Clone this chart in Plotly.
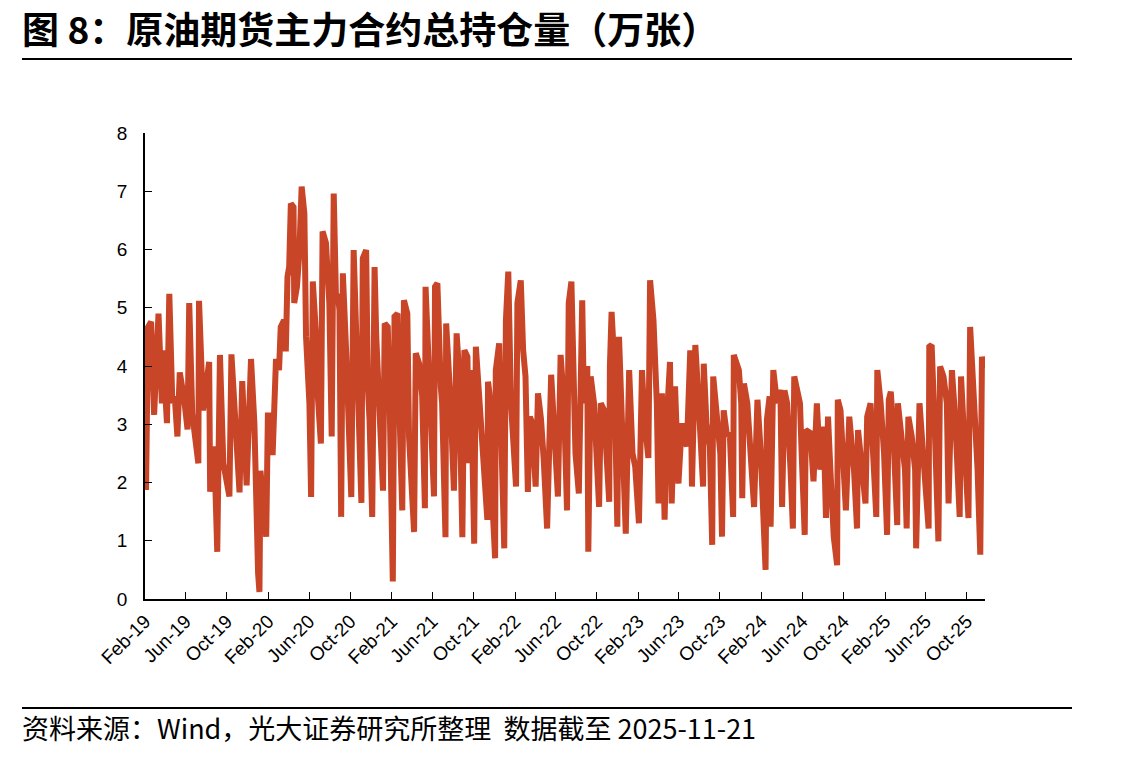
import plotly.graph_objects as go

title_text = "图 8：原油期货主力合约总持仓量（万张）"
source_text = "资料来源：Wind，光大证券研究所整理&nbsp;&nbsp;数据截至 2025-11-21"

dates = [
    "2019-02-04", "2019-02-10", "2019-02-19", "2019-02-28", "2019-03-13", "2019-03-23", "2019-03-26", "2019-04-07",
    "2019-04-14", "2019-04-23", "2019-04-30", "2019-05-08", "2019-05-15", "2019-05-28", "2019-06-07", "2019-06-12",
    "2019-06-21", "2019-07-09", "2019-07-11", "2019-07-23", "2019-08-10", "2019-08-13", "2019-08-25", "2019-09-03",
    "2019-09-11", "2019-09-21", "2019-10-09", "2019-10-15", "2019-10-28", "2019-11-08", "2019-11-16", "2019-11-29",
    "2019-12-12", "2019-12-22", "2020-01-02", "2020-01-06", "2020-01-09", "2020-01-16", "2020-01-26", "2020-01-31",
    "2020-02-10", "2020-02-14", "2020-02-24", "2020-03-04", "2020-03-09", "2020-03-19", "2020-03-24", "2020-03-29",
    "2020-04-03", "2020-04-08", "2020-04-16", "2020-04-18", "2020-04-26", "2020-05-03", "2020-05-10", "2020-05-18",
    "2020-05-23", "2020-06-02", "2020-06-07", "2020-06-12", "2020-06-22", "2020-06-27", "2020-07-06", "2020-07-11",
    "2020-07-21", "2020-07-31", "2020-08-07", "2020-08-13", "2020-08-20", "2020-08-25", "2020-08-30", "2020-09-04",
    "2020-09-09", "2020-09-19", "2020-10-04", "2020-10-11", "2020-10-23", "2020-11-03", "2020-11-07", "2020-11-17",
    "2020-11-22", "2020-11-27", "2020-12-05", "2020-12-12", "2020-12-17", "2020-12-27", "2021-01-06", "2021-01-11",
    "2021-01-20", "2021-01-25", "2021-02-04", "2021-02-09", "2021-02-18", "2021-02-23", "2021-03-04", "2021-03-09",
    "2021-03-19", "2021-03-24", "2021-04-08", "2021-04-13", "2021-04-23", "2021-05-02", "2021-05-10", "2021-05-12",
    "2021-05-22", "2021-06-06", "2021-06-09", "2021-06-16", "2021-06-26", "2021-06-30", "2021-07-10", "2021-07-12",
    "2021-07-25", "2021-08-04", "2021-08-12", "2021-08-19", "2021-08-29", "2021-09-04", "2021-09-13", "2021-09-18",
    "2021-09-23", "2021-10-03", "2021-10-08", "2021-10-18", "2021-10-28", "2021-11-11", "2021-11-13", "2021-11-21",
    "2021-11-26", "2021-12-04", "2021-12-06", "2021-12-16", "2021-12-21", "2021-12-31", "2022-01-05", "2022-01-12",
    "2022-01-20", "2022-01-30", "2022-02-04", "2022-02-08", "2022-02-18", "2022-02-25", "2022-03-04", "2022-03-11",
    "2022-03-17", "2022-03-24", "2022-04-03", "2022-04-10", "2022-04-19", "2022-04-27", "2022-05-07", "2022-05-19",
    "2022-05-27", "2022-06-08", "2022-06-16", "2022-06-26", "2022-07-05", "2022-07-10", "2022-07-18", "2022-07-25",
    "2022-07-30", "2022-08-09", "2022-08-14", "2022-08-19", "2022-08-24", "2022-09-03", "2022-09-06", "2022-09-13",
    "2022-09-23", "2022-09-30", "2022-10-08", "2022-10-13", "2022-10-23", "2022-10-28", "2022-11-07", "2022-11-09",
    "2022-11-14", "2022-11-21", "2022-12-01", "2022-12-06", "2022-12-16", "2022-12-26", "2023-01-05", "2023-01-15",
    "2023-01-23", "2023-01-30", "2023-02-03", "2023-02-12", "2023-02-20", "2023-03-03", "2023-03-08", "2023-03-18",
    "2023-03-28", "2023-04-02", "2023-04-12", "2023-04-20", "2023-04-27", "2023-05-06", "2023-05-11", "2023-05-21",
    "2023-05-31", "2023-06-10", "2023-06-15", "2023-06-25", "2023-07-05", "2023-07-10", "2023-07-20", "2023-07-30",
    "2023-08-12", "2023-08-14", "2023-08-22", "2023-09-01", "2023-09-08", "2023-09-11", "2023-09-22", "2023-10-02",
    "2023-10-07", "2023-10-12", "2023-10-22", "2023-10-30", "2023-11-09", "2023-11-11", "2023-11-26", "2023-12-03",
    "2023-12-06", "2023-12-11", "2023-12-21", "2023-12-31", "2024-01-10", "2024-01-20", "2024-01-30", "2024-02-13",
    "2024-02-17", "2024-02-25", "2024-02-28", "2024-03-07", "2024-03-18", "2024-03-28", "2024-04-02", "2024-04-09",
    "2024-04-17", "2024-04-27", "2024-05-04", "2024-05-08", "2024-05-25", "2024-05-30", "2024-06-08", "2024-06-11",
    "2024-06-25", "2024-07-04", "2024-07-14", "2024-07-24", "2024-08-03", "2024-08-10", "2024-08-16", "2024-08-23",
    "2024-09-02", "2024-09-12", "2024-09-14", "2024-09-22", "2024-09-29", "2024-10-08", "2024-10-18", "2024-11-01",
    "2024-11-10", "2024-11-13", "2024-11-25", "2024-12-05", "2024-12-10", "2024-12-20", "2024-12-30", "2025-01-06",
    "2025-01-09", "2025-01-19", "2025-01-29", "2025-02-07", "2025-02-12", "2025-02-18", "2025-02-26", "2025-03-09",
    "2025-03-11", "2025-03-22", "2025-04-01", "2025-04-06", "2025-04-11", "2025-04-21", "2025-05-01", "2025-05-04",
    "2025-05-14", "2025-05-21", "2025-05-31", "2025-06-10", "2025-06-12", "2025-06-19", "2025-06-29", "2025-07-09",
    "2025-07-14", "2025-07-24", "2025-08-03", "2025-08-08", "2025-08-18", "2025-08-28", "2025-09-10", "2025-09-14",
    "2025-09-23", "2025-10-06", "2025-10-11", "2025-10-21", "2025-11-02", "2025-11-10", "2025-11-15", "2025-11-21",
]

open_interest = [
    1.87, 4.67, 4.76, 3.16, 4.90, 3.36, 4.27, 3.02,
    5.24, 3.36, 3.48, 2.79, 3.89, 3.43, 2.91, 5.08,
    3.18, 2.33, 5.12, 3.24, 4.07, 1.84, 2.62, 0.81,
    4.19, 2.33, 1.76, 4.20, 2.91, 1.83, 3.74, 1.95,
    4.12, 3.02, 0.44, 0.12, 2.20, 1.64, 1.07, 3.15,
    3.15, 2.47, 4.12, 3.93, 4.67, 4.79, 4.25, 5.53,
    5.70, 6.79, 6.73, 5.08, 5.36, 5.93, 7.08, 6.62,
    4.50, 3.36, 1.75, 5.45, 4.50, 3.48, 2.67, 6.31,
    6.11, 5.08, 2.79, 6.96, 5.08, 5.24, 4.96, 1.41,
    5.59, 4.22, 1.75, 5.99, 3.93, 1.65, 5.85, 5.99,
    3.65, 3.08, 1.41, 5.70, 4.50, 3.36, 1.86, 4.73,
    4.67, 3.59, 0.30, 4.85, 4.90, 3.36, 1.52, 5.13,
    4.90, 2.79, 1.15, 4.22, 4.04, 3.48, 1.56, 5.36,
    3.93, 1.76, 5.36, 5.42, 3.65, 3.36, 1.06, 4.73,
    3.36, 1.86, 4.56, 3.93, 1.06, 4.27, 4.16, 2.33,
    3.93, 0.95, 4.33, 3.36, 2.79, 1.36, 3.73, 3.36,
    1.64, 0.70, 3.93, 4.39, 3.08, 0.87, 4.79, 5.62,
    3.36, 2.50, 1.93, 5.08, 5.47, 4.27, 3.82, 1.84,
    3.13, 3.02, 1.93, 3.53, 3.08, 2.39, 1.21, 3.85,
    2.96, 1.76, 4.19, 3.36, 1.52, 5.08, 5.45, 4.16,
    2.50, 1.81, 4.67, 5.13, 3.36, 4.00, 0.81, 3.82,
    3.36, 2.22, 1.58, 3.36, 3.24, 2.67, 1.67, 3.99,
    4.93, 4.16, 1.24, 4.50, 2.79, 1.12, 3.93, 2.50,
    2.27, 1.58, 1.30, 3.93, 3.02, 2.42, 5.47, 4.79,
    3.36, 1.64, 3.53, 1.36, 3.13, 4.07, 1.64, 3.65,
    1.98, 3.02, 2.79, 2.62, 4.27, 1.93, 4.36, 3.36,
    1.93, 4.04, 3.02, 2.62, 0.93, 3.82, 3.24, 2.50,
    1.07, 3.24, 2.79, 2.85, 1.41, 4.19, 3.93, 3.36,
    1.73, 3.70, 3.36, 2.50, 1.58, 3.42, 2.50, 0.50,
    3.08, 3.48, 1.24, 3.93, 3.36, 3.59, 1.58, 3.58,
    3.36, 2.22, 1.21, 3.82, 3.36, 2.50, 1.10, 2.90,
    2.85, 2.02, 3.36, 2.22, 2.96, 1.39, 3.13, 2.22,
    1.07, 0.58, 3.42, 3.24, 2.22, 1.52, 3.13, 2.22,
    1.21, 2.90, 2.22, 1.64, 3.13, 3.36, 2.22, 1.41,
    3.93, 3.36, 2.50, 1.10, 3.42, 3.56, 2.79, 1.27,
    3.36, 2.79, 2.22, 1.21, 3.13, 2.79, 2.22, 0.87,
    3.36, 2.79, 2.05, 1.21, 4.33, 4.36, 2.79, 0.99,
    3.99, 3.82, 3.36, 1.64, 3.93, 3.08, 1.41, 3.82,
    2.79, 1.39, 4.67, 3.65, 2.22, 0.76, 4.16, 3.95,
]

tick_vals = [
    "2019-02-01", "2019-06-01", "2019-10-01", "2020-02-01", "2020-06-01", "2020-10-01", "2021-02-01",
    "2021-06-01", "2021-10-01", "2022-02-01", "2022-06-01", "2022-10-01", "2023-02-01", "2023-06-01",
    "2023-10-01", "2024-02-01", "2024-06-01", "2024-10-01", "2025-02-01", "2025-06-01", "2025-10-01",
]
tick_text = [
    "Feb-19", "Jun-19", "Oct-19", "Feb-20", "Jun-20", "Oct-20", "Feb-21",
    "Jun-21", "Oct-21", "Feb-22", "Jun-22", "Oct-22", "Feb-23", "Jun-23",
    "Oct-23", "Feb-24", "Jun-24", "Oct-24", "Feb-25", "Jun-25", "Oct-25",
]
y_ticks = [0, 1, 2, 3, 4, 5, 6, 7, 8]

LINE_COLOR = "#C94527"
W, H = 1143, 757
L, R, T, B = 145, 985, 133, 599

def px_x(px):
    return (px - L) / (R - L)

def px_y(py):
    return (B - py) / (B - T)

fig = go.Figure()
fig.add_trace(go.Scatter(
    x=dates, y=open_interest, mode="lines",
    line=dict(color=LINE_COLOR, width=6),
    showlegend=False, hoverinfo="x+y",
))

tick_font = dict(family="Liberation Sans, Arial, sans-serif", size=19, color="#000000")

fig.update_layout(
    width=W, height=H,
    margin=dict(l=L, r=W - R, t=T, b=H - B, pad=0),
    paper_bgcolor="white", plot_bgcolor="white",
    xaxis=dict(
        type="date", range=["2019-02-01", "2025-11-24"],
        tickvals=tick_vals, ticktext=tick_text, tickangle=-45,
        ticks="inside", ticklen=7, tickwidth=1.2, tickcolor="#000000",
        showline=True, linecolor="#000000", linewidth=1.5,
        showgrid=False, zeroline=False, tickfont=tick_font,
        ticklabelstandoff=2,
    ),
    yaxis=dict(
        range=[0, 8], tickvals=y_ticks,
        ticks="inside", ticklen=7, tickwidth=1.2, tickcolor="#000000",
        showline=True, linecolor="#000000", linewidth=1.5,
        showgrid=False, zeroline=False, tickfont=tick_font,
        ticklabelstandoff=12,
    ),
    font=dict(family="Noto Sans CJK SC, sans-serif"),
)

fig.add_annotation(
    x=px_x(20), y=px_y(28), xref="paper", yref="paper",
    xanchor="left", yanchor="middle", showarrow=False,
    text="<b>" + title_text + "</b>",
    font=dict(family="Noto Sans CJK SC", size=37, color="#000000"),
)
fig.add_annotation(
    x=px_x(20), y=px_y(727), xref="paper", yref="paper",
    xanchor="left", yanchor="middle", showarrow=False,
    text=source_text,
    font=dict(family="Noto Sans CJK SC", size=27, color="#000000"),
)
for yy in (59, 708):
    fig.add_shape(
        type="line", xref="paper", yref="paper",
        x0=px_x(22), x1=px_x(1072), y0=px_y(yy), y1=px_y(yy),
        line=dict(color="#000000", width=2),
    )

fig.write_html("out.html")
